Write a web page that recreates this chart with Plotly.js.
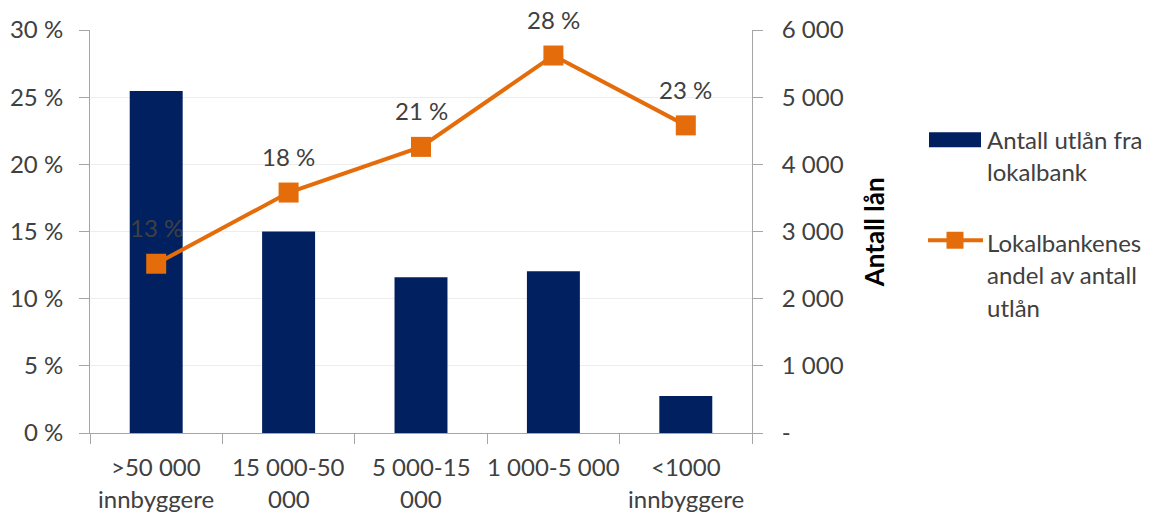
<!DOCTYPE html>
<html>
<head>
<meta charset="utf-8">
<script src="https://cdn.plot.ly/plotly-3.0.1.min.js"></script>
<style>html,body{margin:0;padding:0;background:#fff;}#chart{width:1155px;height:514px;}</style>
</head>
<body>
<div id="chart"></div>
<script>
// ---- data ----
var categories = [">50 000 innbyggere", "15 000-50 000", "5 000-15 000", "1 000-5 000", "<1000 innbyggere"];
var categoryLines = [[">50 000", "innbyggere"], ["15 000-50", "000"], ["5 000-15", "000"], ["1 000-5 000"], ["<1000", "innbyggere"]];
var antallUtlan = [5090, 3000, 2320, 2410, 550];           // right axis (Antall lån)
var andelPct = [12.6, 17.9, 21.3, 28.1, 22.9];            // left axis (%)
var barName = "Antall utlån fra lokalbank";
var barLegendLines = ["Antall utlån fra", "lokalbank"];
var lineName = "Lokalbankenes andel av antall utlån";
var lineLegendLines = ["Lokalbankenes", "andel av antall", "utlån"];
var pctTicks = [0, 5, 10, 15, 20, 25, 30];
var pctTickText = ["0 %", "5 %", "10 %", "15 %", "20 %", "25 %", "30 %"];
var antTicks = [0, 1000, 2000, 3000, 4000, 5000, 6000];
var antTickText = ["-", "1 000", "2 000", "3 000", "4 000", "5 000", "6 000"];
var rightAxisTitle = "Antall lån";

// ---- styling ----
var FONT = "Lato, 'Open Sans', sans-serif";
var FS = 24;
var TXT = "#404040";
var NAVY = "#002060";
var ORANGE = "#E46C0A";
var AXIS = "#A6A6A6";

var W = 1155, H = 514, L = 90, R = 752, T = 29.5, B = 433;
function px(x){ return (x - L) / (R - L); }
function py(y){ return (B - y) / (B - T); }

var traces = [
  {type: "bar", x: categories, y: antallUtlan, name: barName, yaxis: "y",
   marker: {color: NAVY}, width: 0.4, showlegend: false, hoverinfo: "x+y"},
  {type: "scatter", mode: "lines+markers", x: categories, y: andelPct, name: lineName, yaxis: "y2",
   line: {color: ORANGE, width: 4}, marker: {symbol: "square", size: 20, color: ORANGE},
   showlegend: false, cliponaxis: false}
];

var annotations = [];
// data labels
for (var i = 0; i < categories.length; i++) {
  annotations.push({x: categories[i], y: andelPct[i], xref: "x", yref: "y2",
    text: Math.round(andelPct[i]) + " %", showarrow: false, yshift: 36,
    font: {family: FONT, size: FS, color: TXT}});
}
// category labels (per line for spacing)
for (var i = 0; i < categoryLines.length; i++) {
  for (var j = 0; j < categoryLines[i].length; j++) {
    annotations.push({x: categories[i], xref: "x", y: py(467 + 32 * j), yref: "paper",
      text: categoryLines[i][j], showarrow: false, yanchor: "middle",
      font: {family: FONT, size: FS, color: TXT}});
  }
}
// right axis title
annotations.push({x: px(874), y: py(232), xref: "paper", yref: "paper", xanchor: "center", yanchor: "middle",
  text: "<b>" + rightAxisTitle + "</b>",
  textangle: -90, showarrow: false, font: {family: FONT, size: 26, color: "#000"}});
// legend text
for (var j = 0; j < barLegendLines.length; j++) {
  annotations.push({x: px(985), y: py(139 + 32 * j), xref: "paper", yref: "paper", xanchor: "left", yanchor: "middle",
    text: barLegendLines[j], showarrow: false, font: {family: FONT, size: FS, color: TXT}});
}
for (var j = 0; j < lineLegendLines.length; j++) {
  annotations.push({x: px(985), y: py(242 + 32.5 * j), xref: "paper", yref: "paper", xanchor: "left", yanchor: "middle",
    text: lineLegendLines[j], showarrow: false, font: {family: FONT, size: FS, color: TXT}});
}

var shapes = [
  {type: "rect", xref: "paper", yref: "paper", x0: px(929), x1: px(981), y0: py(147), y1: py(132),
   fillcolor: NAVY, line: {width: 0}},
  {type: "line", xref: "paper", yref: "paper", x0: px(928), x1: px(983), y0: py(240), y1: py(240),
   line: {color: ORANGE, width: 4}},
  {type: "rect", xref: "paper", yref: "paper", x0: px(946.5), x1: px(963.5), y0: py(248.5), y1: py(231.5),
   fillcolor: ORANGE, line: {width: 0}}
];

var layout = {
  width: W, height: H,
  margin: {l: L, r: W - R, t: T, b: H - B, pad: 0},
  paper_bgcolor: "#fff", plot_bgcolor: "#fff",
  showlegend: false,
  bargap: 0.6,
  font: {family: FONT, size: FS, color: TXT},
  xaxis: {type: "category", showticklabels: false, ticks: "outside", tickson: "boundaries", ticklen: 10,
    tickcolor: AXIS, showline: true, linecolor: AXIS, linewidth: 1, showgrid: false, zeroline: false,
    range: [-0.5, 4.5]},
  yaxis: {side: "right", range: [0, 6000], tickvals: antTicks, ticktext: antTickText, ticks: "outside",
    ticklen: 10, tickcolor: AXIS, showline: true, linecolor: AXIS, showgrid: true, gridcolor: "#EDEDED",
    zeroline: false, ticklabelstandoff: 14, tickfont: {family: FONT, size: FS, color: TXT}},
  yaxis2: {side: "left", overlaying: "y", range: [0, 30], tickvals: pctTicks, ticktext: pctTickText,
    ticks: "outside", ticklen: 10, tickcolor: AXIS, showline: true, linecolor: AXIS, showgrid: false,
    zeroline: false, ticklabelstandoff: 11, tickfont: {family: FONT, size: FS, color: TXT}},
  annotations: annotations,
  shapes: shapes
};

Plotly.newPlot("chart", traces, layout, {displayModeBar: false, staticPlot: true});
</script>
</body>
</html>
